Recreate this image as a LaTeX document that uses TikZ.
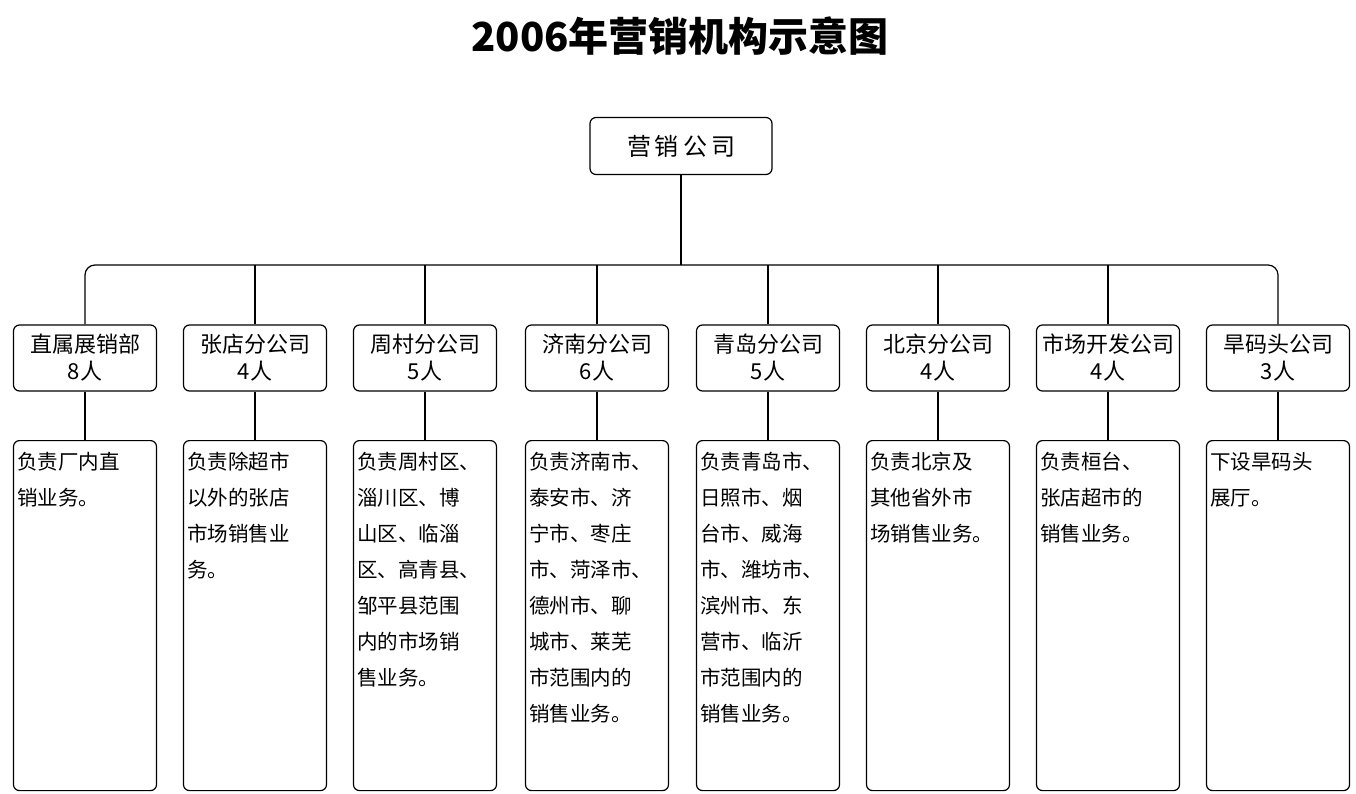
\documentclass[tikz,border=0pt]{standalone}
\usepackage{fontspec}
\setmainfont{Noto Sans CJK SC}
\begin{document}
\begin{tikzpicture}[x=1pt,y=-1pt,
 box/.style={draw,line width=1.2pt,rounded corners=6pt},
 ln/.style={line width=1.2pt},
 head/.style={box,minimum width=143pt,minimum height=66pt,align=center,font=\fontsize{22}{27}\selectfont,inner sep=1pt},
 desc/.style={box,minimum width=143pt,minimum height=350pt,anchor=north},
 dtxt/.style={anchor=north west,text width=138pt,align=left,font=\fontsize{20.5}{36}\selectfont,inner sep=0pt}]
\useasboundingbox (0,0) rectangle (1356,794);
\node[font=\fontsize{40}{44}\selectfont\bfseries] (t) at (680,36) {2006年营销机构示意图};
\node[box,minimum width=182pt,minimum height=57pt,font=\fontsize{24}{28}\selectfont] (top) at (681,146) {营\,销\,公\,司};
\coordinate (bus) at (681,265);
\draw[ln] (top.south) -- (bus);
\foreach \i/\x/\n/\p/\d in {
1/85/直属展销部/8人/{负责厂内直\\销业务。},
2/255/张店分公司/4人/{负责除超市\\以外的张店\\市场销售业\\务。},
3/425/周村分公司/5人/{负责周村区、\\淄川区、博\\山区、临淄\\区、高青县、\\邹平县范围\\内的市场销\\售业务。},
4/597/济南分公司/6人/{负责济南市、\\泰安市、济\\宁市、枣庄\\市、菏泽市、\\德州市、聊\\城市、莱芜\\市范围内的\\销售业务。},
5/768/青岛分公司/5人/{负责青岛市、\\日照市、烟\\台市、威海\\市、潍坊市、\\滨州市、东\\营市、临沂\\市范围内的\\销售业务。},
6/938/北京分公司/4人/{负责北京及\\其他省外市\\场销售业务。},
7/1108/市场开发公司/4人/{负责桓台、\\张店超市的\\销售业务。},
8/1278/旱码头公司/3人/{下设旱码头\\展厅。}}{
 \node[head] (h\i) at (\x,358) {\n\\\p};
 \node[desc] (d\i) at (\x,440) {};
 \node[dtxt] (x\i) at ([xshift=4pt,yshift=-12pt]d\i.north west) {\d};
 \draw[ln] (h\i.south) -- (d\i.north);
}
\draw[ln,rounded corners=10pt] (h1.north) -- (h1.north |- bus) -- (h8.north |- bus) -- (h8.north);
\foreach \i in {2,...,7} \draw[ln] (h\i.north |- bus) -- (h\i.north);
\end{tikzpicture}
\end{document}
